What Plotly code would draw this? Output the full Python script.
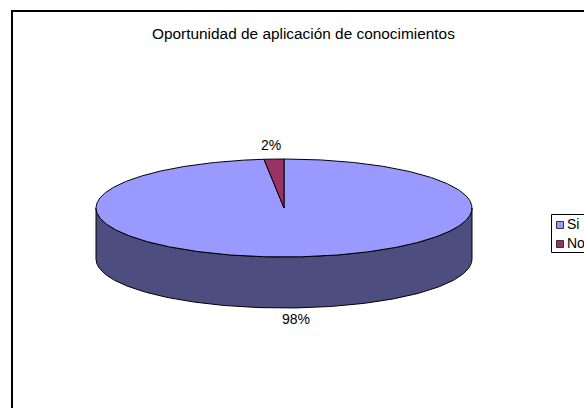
import numpy as np
import plotly.graph_objects as go

categories = ["Si", "No"]
values = [98.3, 1.7]
chart_title = "Oportunidad de aplicación de conocimientos"

TOP = ["#9999FF", "#993366"]
SIDE = "#4D4D80"
W, H = 584, 408
CX, CY, RX, RY, DEPTH = 284, 208, 188, 49, 51


def ell(a, dy=0.0):
    a = np.radians(a)
    return CX + RX * np.sin(a), CY - RY * np.cos(a) + dy


fig = go.Figure()

# frame
fig.add_shape(type="rect", x0=12, y0=11, x1=W + 20, y1=H + 20,
              line=dict(color="black", width=2), fillcolor="white", layer="below")

# side wall (front half of the disc)
a = np.linspace(90, 270, 181)
xt, yt = ell(a)
xb, yb = ell(a[::-1], DEPTH)
fig.add_trace(go.Scatter(x=np.r_[xt, xb, xt[0]], y=np.r_[yt, yb, yt[0]], mode="lines",
                         fill="toself", fillcolor=SIDE, line=dict(color="black", width=1),
                         hoverinfo="skip", showlegend=False))

# top slices, clockwise from 12 o'clock
total = sum(values)
start = 0.0
for name, v, c in zip(categories, values, TOP):
    end = start + 360 * v / total
    a = np.linspace(start, end, max(int(end - start) * 2, 4))
    xs, ys = ell(a)
    fig.add_trace(go.Scatter(x=np.r_[CX, xs, CX], y=np.r_[CY, ys, CY], mode="lines",
                             fill="toself", fillcolor=c, line=dict(color="black", width=1),
                             name=name, showlegend=False, hoverinfo="name"))
    start = end

FONT = "Liberation Sans, Arial, sans-serif"

# percentage labels
label_pos = [(296, 319), (271, 145)]
for v, (x, y) in zip(values, label_pos):
    fig.add_annotation(x=x, y=y, text=f"{round(100 * v / total)}%", showarrow=False,
                       font=dict(family=FONT, size=14, color="black"))

# title
fig.add_annotation(x=303.5, y=33, text=chart_title, showarrow=False,
                   font=dict(family=FONT, size=15.4, color="black"))

# legend
fig.add_shape(type="rect", x0=551.5, y0=214.5, x1=W + 20, y1=252.5,
              line=dict(color="black", width=1), fillcolor="white", layer="below")
for i, (name, c) in enumerate(zip(categories, TOP)):
    yy = 225 + i * 19
    fig.add_trace(go.Scatter(x=[560], y=[yy], mode="markers", hoverinfo="skip", showlegend=False,
                             marker=dict(symbol="square", size=7, color=c,
                                         line=dict(color="#333333", width=1))))
    fig.add_annotation(x=565, y=yy - 1.5, text=name, showarrow=False, xanchor="left",
                       font=dict(family=FONT, size=14, color="black"))

fig.update_layout(width=W, height=H, margin=dict(l=0, r=0, t=0, b=0),
                  paper_bgcolor="white", plot_bgcolor="white", showlegend=False,
                  xaxis=dict(range=[0, W], visible=False, fixedrange=True),
                  yaxis=dict(range=[H, 0], visible=False, fixedrange=True))
fig.write_html("out.html", config=dict(displayModeBar=False),
               post_script="document.body.style.margin='0';document.documentElement.style.overflow='hidden';")
